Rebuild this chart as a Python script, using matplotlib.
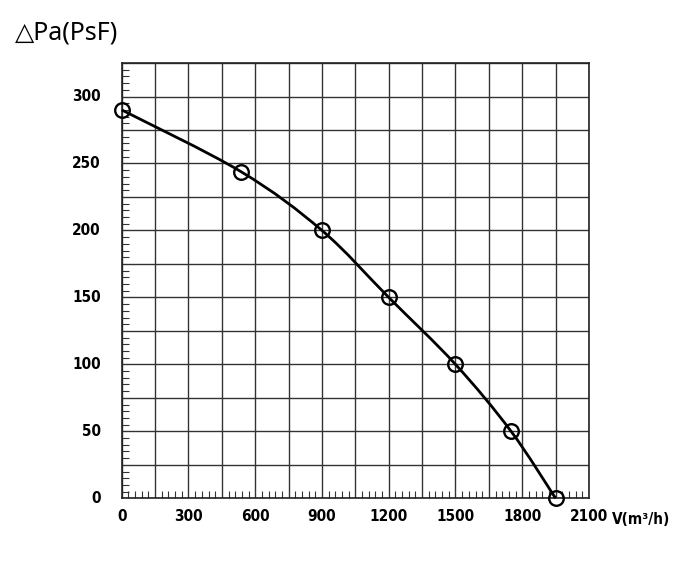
import numpy as np
import matplotlib
matplotlib.use("Agg")
import matplotlib.pyplot as plt
from matplotlib.path import Path
from matplotlib.patches import PathPatch
from matplotlib.ticker import MultipleLocator
from matplotlib import font_manager

# fan curve: airflow vs static pressure
flow = [0, 535, 900, 1200, 1500, 1750, 1950]
pressure = [290, 244, 200, 150, 100, 50, 0]
x_ticks = [0, 300, 600, 900, 1200, 1500, 1800, 2100]
y_ticks = [0, 50, 100, 150, 200, 250, 300]
title_text = "\u25b3Pa(PsF)"
xlabel_text = "V(m\u00b3/h)"


def pick_narrow_bold():
    # narrow sans bold face: Liberation Sans Narrow first, then DejaVu Sans Condensed
    narrow, condensed = None, None
    for f in font_manager.fontManager.ttflist:
        fn = f.fname.lower()
        if "italic" in fn or "oblique" in fn or "serif" in fn or "mono" in fn:
            continue
        if "bold" not in fn:
            continue
        if "liberationsansnarrow" in fn.replace("-", "").replace(" ", ""):
            narrow = f.fname
        elif "dejavusanscondensed" in fn.replace("-", "").replace(" ", ""):
            condensed = f.fname
    if narrow:
        return narrow, 12.5
    if condensed:
        return condensed, 11
    return None, 10.5


narrow_file, lab_size = pick_narrow_bold()
if narrow_file:
    LAB_FP = font_manager.FontProperties(fname=narrow_file, size=lab_size)
else:
    LAB_FP = font_manager.FontProperties(family="DejaVu Sans", weight="bold", size=lab_size)


def smooth_path(xs, ys, ax):
    # Catmull-Rom through the points, drawn as cubic bezier in display space
    pts = ax.transData.transform(np.column_stack([xs, ys]))
    verts = [pts[0]]
    codes = [Path.MOVETO]
    n = len(pts)
    for i in range(n - 1):
        p0 = pts[i - 1] if i > 0 else pts[i]
        p1 = pts[i]
        p2 = pts[i + 1]
        p3 = pts[i + 2] if i + 2 < n else pts[i + 1]
        c1 = p1 + (p2 - p0) / 6.0
        c2 = p2 - (p3 - p1) / 6.0
        verts += [c1, c2, p2]
        codes += [Path.CURVE4] * 3
    return Path(verts, codes)


fig = plt.figure(figsize=(7.0, 5.63), dpi=100)
ax = fig.add_axes([0.1739, 0.1149, 0.6675, 0.7731])
ax.set_xlim(0, 2100)
ax.set_ylim(0, 325)

ax.xaxis.set_major_locator(MultipleLocator(150))
ax.xaxis.set_minor_locator(MultipleLocator(30))
ax.yaxis.set_major_locator(MultipleLocator(25))
ax.yaxis.set_minor_locator(MultipleLocator(5))
ax.grid(True, which="major", color="#333333", linewidth=1.0)
ax.set_axisbelow(True)

ax.tick_params(which="major", length=0, pad=0)
ax.tick_params(which="minor", direction="in", length=5, width=0.8, color="#333333",
               left=True, bottom=True, top=False, right=False)
ax.set_xticklabels([])
ax.set_yticklabels([])
for s in ax.spines.values():
    s.set_linewidth(1.2)
    s.set_color("#222222")

# tick labels every 300 / 50, drawn as text next to the axes
for v in x_ticks:
    ax.annotate(str(v), (v, 0), xytext=(0, -8), textcoords="offset points",
                ha="center", va="top", fontproperties=LAB_FP)
for v in y_ticks:
    ax.annotate(str(v), (0, v), xytext=(-15, 0), textcoords="offset points",
                ha="right", va="center", fontproperties=LAB_FP)

fig.canvas.draw()
curve = PathPatch(smooth_path(flow, pressure, ax), transform=None, facecolor="none",
                  edgecolor="black", linewidth=2.0, clip_on=False, zorder=3)
ax.add_artist(curve)
ax.plot(flow, pressure, linestyle="none", marker="o", markersize=10.5, markerfacecolor="none",
        markeredgecolor="black", markeredgewidth=1.7, clip_on=False, zorder=4)

fig.text(612 / 700, 1 - 524 / 563, xlabel_text, ha="left", va="baseline", fontproperties=LAB_FP)
fig.text(15 / 700, 1 - 39 / 563, title_text, ha="left", va="baseline",
         family=["Noto Sans", "DejaVu Sans"], size=18)

fig.savefig("out.png", dpi=100)
